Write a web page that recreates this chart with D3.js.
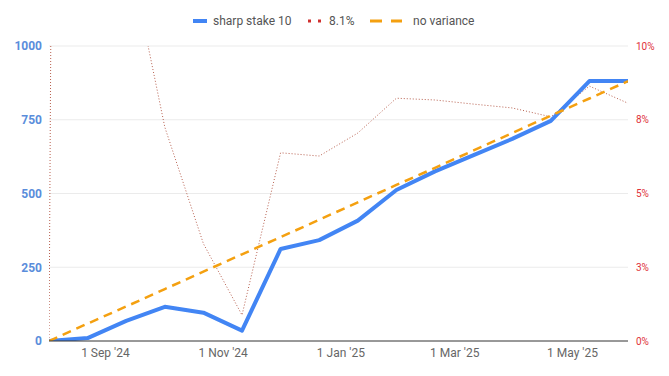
<!DOCTYPE html>
<html>
<head>
<meta charset="utf-8">
<script src="https://cdn.jsdelivr.net/npm/d3@7"></script>
<style>
  body { margin: 0; background: #fff; }
  svg { font-family: Roboto, "Noto Sans", sans-serif; }
</style>
</head>
<body>
<svg id="chart" width="669" height="376"></svg>
<script>
// data
var dates = ["2024-08-02", "2024-08-22", "2024-09-11", "2024-10-01", "2024-10-21", "2024-11-10",
  "2024-11-30", "2024-12-20", "2025-01-09", "2025-01-29", "2025-02-18", "2025-03-10",
  "2025-03-30", "2025-04-19", "2025-05-09", "2025-05-29"]
var stake = [0, 10, 68, 116, 96, 35, 312, 342, 408, 512, 575, 630, 685, 746, 881, 881]
var roi = [0, 2.2, 0.136, 0.0725, 0.033, 0.0088, 0.0638, 0.0627, 0.0705, 0.0823, 0.0817,
  0.0803, 0.079, 0.076, 0.0864, 0.0806]
var noVariance = [0, 59, 117, 176, 235, 294, 352, 411, 470, 529, 587, 646, 705, 764, 822, 881]

var leftTicks = [0, 250, 500, 750, 1000]
var rightTicks = [0, 0.025, 0.05, 0.075, 0.1]
var rightTickLabels = ["0%", "3%", "5%", "8%", "10%"]
var xTicks = ["2024-09-01", "2024-11-01", "2025-01-01", "2025-03-01", "2025-05-01"]
var legendNames = ["sharp stake 10", "8.1%", "no variance"]

var parse = d3.timeParse("%Y-%m-%d")
var dts = dates.map(parse)

var plotL = 49, plotR = 628, plotT = 46, plotB = 341

var svg = d3.select("#chart")

var x = d3.scaleTime()
  .domain([dts[0], dts[dts.length - 1]])
  .range([plotL, plotR])
var y = d3.scaleLinear().domain([0, 1000]).range([plotB, plotT])
var y2 = d3.scaleLinear().domain([0, 0.1]).range([plotB, plotT])

svg.append("defs").append("clipPath").attr("id", "clip")
  .append("rect")
    .attr("x", plotL).attr("y", plotT)
    .attr("width", plotR - plotL).attr("height", plotB - plotT)

// gridlines
svg.append("g")
  .selectAll("line")
  .data(leftTicks.slice(1))
  .enter()
  .append("line")
    .attr("x1", plotL).attr("x2", plotR)
    .attr("y1", function(d) { return y(d) }).attr("y2", function(d) { return y(d) })
    .attr("stroke", "#ebebeb")

// left axis
var gl = svg.append("g")
  .attr("transform", "translate(" + plotL + ",0)")
  .call(d3.axisLeft(y).tickValues(leftTicks).tickSize(0).tickPadding(7).tickFormat(d3.format("d")))
gl.select(".domain").remove()
gl.selectAll("text")
  .attr("fill", "#5a8ddb")
  .attr("font-size", "12px")
  .attr("font-weight", "bold")
  .attr("font-family", "Roboto, sans-serif")

// right axis
var gr = svg.append("g")
  .attr("transform", "translate(" + plotR + ",0)")
  .call(d3.axisRight(y2).tickValues(rightTicks).tickSize(0).tickPadding(8)
    .tickFormat(function(d, i) { return rightTickLabels[i] }))
gr.select(".domain").remove()
gr.selectAll("text")
  .attr("fill", "#e0323a")
  .attr("font-size", "10px")
  .attr("font-family", "Roboto, sans-serif")

// bottom axis
var gx = svg.append("g")
  .attr("transform", "translate(-2," + plotB + ")")
  .call(d3.axisBottom(x).tickValues(xTicks.map(parse)).tickSize(0).tickPadding(7)
    .tickFormat(d3.timeFormat("%-d %b '%y")))
gx.select(".domain").remove()
gx.selectAll("text")
  .attr("fill", "#666")
  .attr("font-size", "12px")
  .attr("font-family", "Roboto, sans-serif")

var plot = svg.append("g").attr("clip-path", "url(#clip)")

// red dotted roi line
var roiLine = d3.line()
  .x(function(d, i) { return x(dts[i]) })
  .y(function(d) { return y2(d) })
plot.append("path")
  .datum(roi)
  .attr("d", roiLine)
  .attr("fill", "none")
  .attr("stroke", "#b8604f")
  .attr("stroke-width", 1)
  .attr("stroke-dasharray", "1,2")

// baseline
svg.append("line")
  .attr("x1", plotL).attr("x2", plotR)
  .attr("y1", plotB).attr("y2", plotB)
  .attr("stroke", "#333")
  .attr("stroke-width", 1)

var valLine = d3.line()
  .x(function(d, i) { return x(dts[i]) })
  .y(function(d) { return y(d) })

// blue stake line
plot.append("path")
  .datum(stake)
  .attr("d", valLine)
  .attr("fill", "none")
  .attr("stroke", "#4285f4")
  .attr("stroke-width", 4)
  .attr("stroke-linejoin", "round")

// orange dashed no variance
plot.append("path")
  .datum(noVariance)
  .attr("d", valLine)
  .attr("fill", "none")
  .attr("stroke", "#f4a010")
  .attr("stroke-width", 2.5)
  .attr("stroke-dasharray", "9,6")

// legend
var lg = svg.append("g").attr("font-size", "12px").attr("fill", "#555")
  .attr("font-family", "Roboto, sans-serif")
lg.append("line").attr("x1", 193).attr("x2", 207).attr("y1", 21).attr("y2", 21)
  .attr("stroke", "#4285f4").attr("stroke-width", 4)
lg.append("text").attr("x", 213).attr("y", 25).text(legendNames[0])
lg.append("line").attr("x1", 308).attr("x2", 321).attr("y1", 21).attr("y2", 21)
  .attr("stroke", "#d0302f").attr("stroke-width", 3).attr("stroke-dasharray", "3,7")
lg.append("text").attr("x", 329).attr("y", 25).text(legendNames[1])
lg.append("line").attr("x1", 370).attr("x2", 402).attr("y1", 21).attr("y2", 21)
  .attr("stroke", "#f4a010").attr("stroke-width", 3).attr("stroke-dasharray", "12,9")
lg.append("text").attr("x", 413).attr("y", 25).text(legendNames[2])
</script>
</body>
</html>
